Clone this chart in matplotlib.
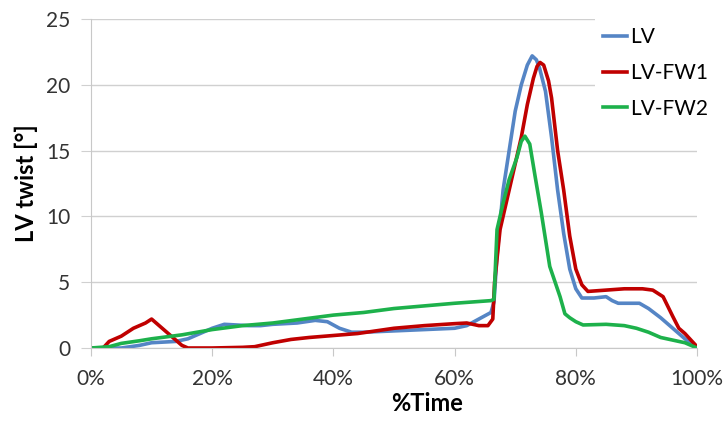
import matplotlib
matplotlib.use('Agg')
import matplotlib.pyplot as plt
import numpy as np

# LV twist curves (x in % of cycle, y in degrees)
lv_x = [0, 5, 8, 10, 14, 16, 18, 20, 22, 24, 26, 28, 30, 34, 37, 39, 41, 43, 45, 50, 55, 60, 62, 64,
        66, 66.5, 67, 68, 69, 70, 71, 72, 72.8, 73.5, 74, 75, 76, 77, 78, 79, 80, 81, 83, 85, 86, 87,
        90.5, 92, 94, 96, 98, 100]
lv_y = [0, 0, 0.2, 0.4, 0.5, 0.7, 1.1, 1.5, 1.8, 1.75, 1.7, 1.7, 1.8, 1.9, 2.1, 2.0, 1.5, 1.2, 1.2, 1.3,
        1.4, 1.5, 1.7, 2.2, 2.7, 3.5, 7, 12, 15, 18, 20, 21.5, 22.2, 21.9, 21.3, 19.5, 16, 12, 8.7, 6,
        4.5, 3.8, 3.8, 3.9, 3.6, 3.4, 3.4, 3.0, 2.3, 1.5, 0.7, 0]

fw1_x = [0, 2, 3, 5, 7, 9, 10, 11, 13, 15, 16, 20, 25, 27, 30, 33, 36, 40, 44, 47, 50, 55, 60, 62,
         64, 65.5, 66.3, 66.6, 67.5, 69, 70, 71, 72, 73, 73.6, 74.1, 74.7, 75.5, 76, 77, 78, 79, 80,
         81, 82, 85, 88, 91, 92.7, 94.4, 96, 97, 98, 100]
fw1_y = [0, 0, 0.5, 0.9, 1.5, 1.9, 2.2, 1.8, 1.0, 0.2, 0, 0, 0.05, 0.1, 0.4, 0.65, 0.8, 0.95, 1.1,
         1.3, 1.5, 1.7, 1.85, 1.9, 1.7, 1.7, 2.2, 5, 9, 12, 14, 16, 18.5, 20.5, 21.4, 21.7, 21.5, 20.3,
         19, 15, 12, 8.5, 6, 4.8, 4.3, 4.4, 4.5, 4.5, 4.4, 3.9, 2.4, 1.5, 1.1, 0.1]

fw2_x = [0, 3, 5, 8, 10, 15, 20, 25, 30, 35, 40, 45, 50, 55, 60, 66, 66.5, 67, 68, 69, 70.3, 71,
         71.6, 72.4, 73.3, 74.3, 75.7, 77.4, 78.2, 79, 80, 81.2, 85, 88, 90, 92, 94, 96, 98, 100]
fw2_y = [0, 0.1, 0.35, 0.55, 0.7, 1.0, 1.4, 1.7, 1.9, 2.2, 2.5, 2.7, 3.0, 3.2, 3.4, 3.6, 3.7, 9.0,
         11.0, 12.8, 14.5, 15.7, 16.1, 15.5, 13.0, 10.3, 6.2, 3.9, 2.6, 2.3, 2.0, 1.75, 1.8, 1.7,
         1.5, 1.2, 0.8, 0.6, 0.4, 0]

plt.rcParams['font.family'] = ['Lato', 'DejaVu Sans']

fig = plt.figure(figsize=(7.25, 4.23), dpi=100)
ax = fig.add_axes([0.1255, 0.1773, 0.8359, 0.7777])

ax.plot(lv_x, lv_y, color='#5585C5', lw=2.6, label='LV')
ax.plot(fw1_x, fw1_y, color='#C00000', lw=2.6, label='LV-FW1')
ax.plot(fw2_x, fw2_y, color='#1DB14B', lw=2.6, label='LV-FW2')

ax.set_xlim(0, 100)
ax.set_ylim(0, 25)
ax.set_xticks([0, 20, 40, 60, 80, 100])
ax.set_xticklabels(['0%', '20%', '40%', '60%', '80%', '100%'])
ax.set_yticks([0, 5, 10, 15, 20, 25])
ax.tick_params(axis='both', labelsize=15, labelcolor='#333333')
ax.tick_params(axis='x', length=6, color='#c8c8c8', pad=9)
ax.tick_params(axis='y', length=7, color='#d0d0d0', pad=8)
ax.grid(axis='y', color='#d0d0d0', lw=1)
ax.set_axisbelow(True)
for s in ['top', 'right']:
    ax.spines[s].set_visible(False)
ax.spines['left'].set_color('#c8c8c8')
ax.spines['bottom'].set_color('#c8c8c8')

ax.set_xlabel('%Time', fontsize=17, fontweight='bold', labelpad=2, x=0.555)
ax.set_ylabel('LV twist [°]', fontsize=17, fontweight='bold', labelpad=6)

leg = ax.legend(loc='upper left', bbox_to_anchor=(0.8317, 1.0), frameon=True, fontsize=15,
                handlelength=1.15, handletextpad=0.15, labelspacing=0.75, borderaxespad=0,
                borderpad=0.4, fancybox=False)
leg.get_frame().set_edgecolor('none')
leg.get_frame().set_facecolor('white')
leg.get_frame().set_alpha(1)

plt.savefig('out.png')
